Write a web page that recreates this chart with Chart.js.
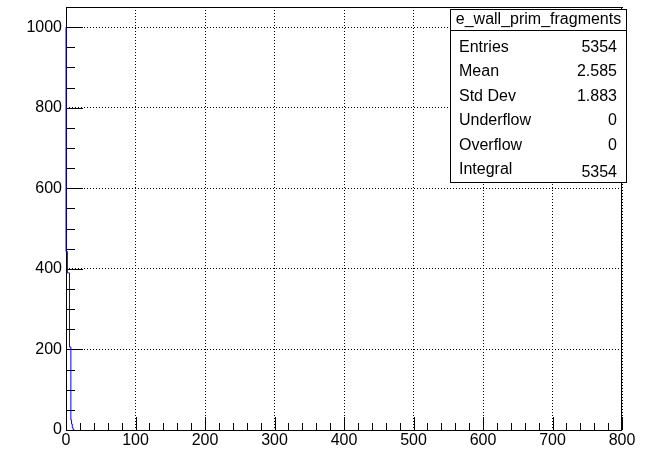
<!DOCTYPE html>
<html>
<head>
<meta charset="utf-8">
<script src="https://cdn.jsdelivr.net/npm/chart.js@4/dist/chart.umd.min.js"></script>
<style>
  html, body { margin: 0; padding: 0; background: #fff; }
  canvas { display: block; }
</style>
</head>
<body>
<canvas id="histo" width="656" height="451"></canvas>
<script>
// histogram e_wall_prim_fragments (bin width 1, range 0-800)
const binLow = [0, 1, 2, 3, 4, 5, 6, 7, 8, 9, 10, 11, 12];
const counts = [1000, 443, 443, 390, 390, 390, 206, 206, 25, 15, 6, 2, 0];

const xTicks = [0, 100, 200, 300, 400, 500, 600, 700, 800];
const yTicks = [0, 200, 400, 600, 800, 1000];

const statsTitle = "e_wall_prim_fragments";
const statsNames = ["Entries", "Mean", "Std Dev", "Underflow", "Overflow", "Integral"];
const statsValues = ["5354", "2.585", "1.883", "0", "0", "5354"];

const FONT = "'Liberation Sans', Arial, Helvetica, sans-serif";

const points = binLow.map((x, i) => ({ x: x, y: counts[i] }));

// frame + inside ticks like ROOT
const rootFrame = {
  id: "rootFrame",
  beforeDatasetsDraw(chart) {
    const { ctx, chartArea: a, scales } = chart;
    const x = scales.x, y = scales.y;
    ctx.save();
    ctx.strokeStyle = "#000";
    ctx.lineWidth = 1;
    ctx.beginPath();
    for (let v = 0; v <= 800; v += 20) {
      const px = Math.round(x.getPixelForValue(v)) + 0.5;
      const len = v % 100 === 0 ? 13 : 7;
      ctx.moveTo(px, a.bottom);
      ctx.lineTo(px, a.bottom - len);
    }
    for (let v = 0; v <= 1050; v += 50) {
      const py = Math.round(y.getPixelForValue(v)) + 0.5;
      const len = v % 200 === 0 ? 17 : 9;
      ctx.moveTo(a.left, py);
      ctx.lineTo(a.left + len, py);
    }
    ctx.stroke();
    ctx.strokeRect(a.left + 0.5, a.top + 0.5, a.right - a.left - 1, a.bottom - a.top);
    ctx.restore();
  },
  afterDraw(chart) {
    const ctx = chart.ctx;
    const bx = 450.5, by = 9.5, bw = 176, bh = 173;
    ctx.save();
    ctx.fillStyle = "#fff";
    ctx.fillRect(bx, by, bw, bh);
    ctx.strokeStyle = "#000";
    ctx.lineWidth = 1;
    ctx.strokeRect(bx, by, bw, bh);
    ctx.beginPath();
    ctx.moveTo(bx, 30.5);
    ctx.lineTo(bx + bw, 30.5);
    ctx.stroke();
    ctx.fillStyle = "#000";
    ctx.textBaseline = "middle";
    ctx.font = "16px " + FONT;
    ctx.textAlign = "center";
    ctx.fillText(statsTitle, bx + bw / 2, 20);
    statsNames.forEach((name, i) => {
      const cy = 47.5 + i * 24.4;
      ctx.textAlign = "left";
      ctx.fillText(name, 459, cy);
      ctx.textAlign = "right";
      ctx.fillText(statsValues[i], 617, i === statsNames.length - 1 ? cy + 3 : cy);
    });
    ctx.restore();
  }
};

new Chart(document.getElementById("histo"), {
  type: "line",
  data: {
    datasets: [{
      label: statsTitle,
      data: points,
      stepped: "after",
      borderColor: "#0000ff",
      borderWidth: 1,
      pointRadius: 0,
      fill: false,
      clip: false
    }]
  },
  options: {
    responsive: false,
    animation: false,
    devicePixelRatio: 1,
    layout: { padding: { top: 7, right: 34, left: 0, bottom: 0 } },
    plugins: { legend: { display: false }, tooltip: { enabled: false } },
    scales: {
      x: {
        type: "linear",
        min: 0,
        max: 800,
        afterFit: (s) => { s.height = 21; s.paddingLeft = 0; s.paddingRight = 0; },
        afterBuildTicks: (s) => { s.ticks = xTicks.map(v => ({ value: v })); },
        grid: { color: "#000", lineWidth: 1, drawTicks: false },
        border: { display: false, dash: [1, 2] },
        ticks: { color: "#000", padding: 1, maxRotation: 0, font: { family: FONT, size: 16 },
          callback: (v) => String(v) }
      },
      y: {
        type: "linear",
        min: 0,
        max: 1050,
        afterFit: (s) => { s.width = 66; s.paddingTop = 0; s.paddingBottom = 0; },
        afterBuildTicks: (s) => { s.ticks = yTicks.map(v => ({ value: v })); },
        grid: { color: "#000", lineWidth: 1, drawTicks: false },
        border: { display: false, dash: [1, 2] },
        ticks: { color: "#000", padding: 4, font: { family: FONT, size: 16 },
          callback: (v) => String(v) }
      }
    }
  },
  plugins: [rootFrame]
});
</script>
</body>
</html>
